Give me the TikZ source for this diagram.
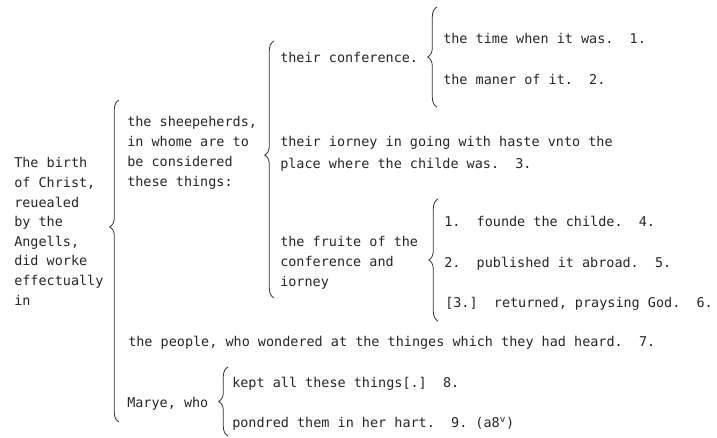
\documentclass[tikz,border=0pt]{standalone}
\usepackage{fontspec}
\setmonofont{DejaVu Sans Mono}
\usetikzlibrary{decorations.pathreplacing}
\tikzset{
	outline/.style={anchor=base west,inner sep=0pt,align=left,black!85,
		font=\ttfamily\fontsize{10.1}{15}\selectfont},
	bracket/.style={decorate,decoration={brace,amplitude=7pt,aspect=#1},line width=0.6pt,black!80}
}
\begin{document}
\begin{tikzpicture}[x=0.75pt,y=-0.75pt]
	\useasboundingbox (0,0) rectangle (717,437);
	
	%LEFT COLUMN (base = last line)
	\node[outline,font=\ttfamily\fontsize{10.1}{14.7}\selectfont] (birth) at (14,305) {The birth\\of Christ,\\reuealed\\by the\\Angells,\\did worke\\effectually\\in};
	
	%SECOND COLUMN
	\node[outline] (sheep) at (127,186) {the sheepeherds,\\in whome are to\\be considered\\these things:};
	\node[outline] (people) at (128,346) {the people, who wondered at the thinges which they had heard.\ \ 7.};
	\node[outline] (marye) at (127,407) {Marye, who};
	
	%THIRD COLUMN
	\node[outline] (conf) at (280,62) {their conference.};
	\node[outline] (iorney) at (280,168) {their iorney in going with haste vnto the\\[1.5pt]place where the childe was.\ \ 3.};
	\node[outline] (fruite) at (280,286) {the fruite of the\\conference and\\iorney};
	
	%LAST COLUMN
	\node[outline] (time) at (443,43) {the time when it was.\ \ 1.};
	\node[outline] (maner) at (443,84) {the maner of it.\ \ 2.};
	\node[outline] (founde) at (444,226) {1.\ \ founde the childe.\ \ 4.};
	\node[outline] (abroad) at (444,267) {2.\ \ published it abroad.\ \ 5.};
	\node[outline] (returned) at (445,307) {[3.]\ \ returned, praysing God.\ \ 6.};
	\node[outline] (kept) at (232,387) {kept all these things[.]\ \ 8.};
	\node[outline] (pondred) at (232,427) {pondred them in her hart.\ \ 9. (a8\textsuperscript{v})};
	
	%BRACES
	\foreach \xx/\ya/\yb/\asp in {119/422/100/0.606, 274/298/41/0.556, 437/107/7/0.5, 438/321/199/0.5, 228/436/367/0.5}{
		\draw[bracket=\asp] (\xx,\ya)--(\xx,\yb);
	}
\end{tikzpicture}
\end{document}
